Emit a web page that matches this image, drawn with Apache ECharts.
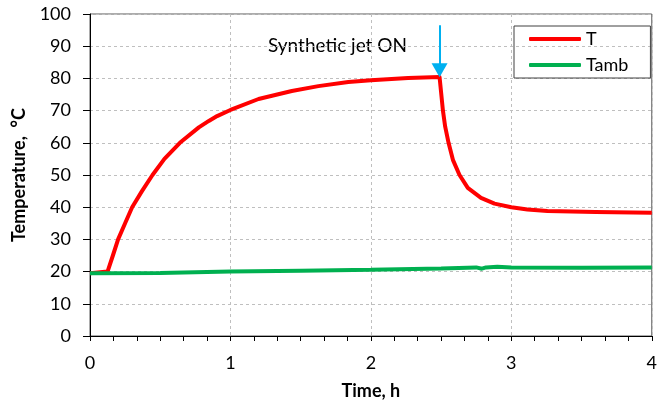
<!DOCTYPE html>
<html>
<head>
<meta charset="utf-8">
<script src="https://cdn.jsdelivr.net/npm/echarts@6/dist/echarts.min.js"></script>
<style>
  html, body { margin: 0; padding: 0; background: #fff; }
  #chart { width: 660px; height: 405px; }
</style>
</head>
<body>
<div id="chart"></div>
<script>
// T curve (hours, °C)
var tTime = [0, 0.125, 0.163, 0.2, 0.25, 0.3, 0.37, 0.445, 0.53, 0.64, 0.775, 0.846, 0.905, 1.0, 1.2,
  1.437, 1.626, 1.839, 2.0, 2.265, 2.489, 2.513, 2.529, 2.553, 2.584, 2.631, 2.69, 2.784, 2.88, 3.0,
  3.115, 3.257, 3.6, 4.0];
var tVals = [19.5, 20, 25, 30, 35, 40, 45, 50, 55, 60, 64.8, 66.8, 68.3, 70.2, 73.6,
  76.1, 77.6, 78.9, 79.4, 80.1, 80.4, 70, 65, 60, 54.7, 50, 46, 42.9, 41.1, 40,
  39.3, 38.8, 38.5, 38.3];

// Tamb curve
var ambTime = [0, 0.5, 1, 1.5, 2, 2.5, 2.75, 2.79, 2.82, 2.9, 3.0, 3.5, 4.0];
var ambVals = [19.5, 19.6, 20.0, 20.3, 20.6, 21.0, 21.3, 20.9, 21.3, 21.5, 21.3, 21.2, 21.3];

var jetTime = 2.489;
var xTicks = [0, 1, 2, 3, 4];
var yTicks = [0, 10, 20, 30, 40, 50, 60, 70, 80, 90, 100];

function pairs(xs, ys) {
  return xs.map(function (x, i) { return [x, ys[i]]; });
}

var font = "Lato, 'Open Sans', sans-serif";
var chart = echarts.init(document.getElementById("chart"));
chart.setOption({
  animation: false,
  backgroundColor: "#fff",
  grid: {
    left: 90, right: 5, top: 14, bottom: 68,
    show: true, borderColor: "#595959", borderWidth: 1
  },
  legend: {
    orient: "vertical",
    left: 514, top: 26,
    borderColor: "#404040", borderWidth: 1,
    padding: [4, 22, 4, 15],
    itemWidth: 52, itemHeight: 4, itemGap: 8,
    icon: "roundRect",
    textStyle: { fontFamily: font, fontSize: 18, color: "#000" },
    data: ["T", "Tamb"]
  },
  xAxis: {
    type: "value",
    min: xTicks[0], max: xTicks[xTicks.length - 1], interval: 1,
    name: "Time, h",
    nameLocation: "middle", nameGap: 46,
    nameTextStyle: { fontFamily: font, fontSize: 18, fontWeight: "bold", color: "#000" },
    axisLine: { lineStyle: { color: "#000", width: 1 } },
    axisTick: { show: true, length: 5, lineStyle: { color: "#000" } },
    minorTick: { show: true, splitNumber: 6, length: 5, lineStyle: { color: "#000" } },
    axisLabel: { fontFamily: font, fontSize: 18, color: "#000", margin: 18 },
    splitLine: { show: true, lineStyle: { color: "#BFBFBF", type: [3, 3] } }
  },
  yAxis: {
    type: "value",
    min: yTicks[0], max: yTicks[yTicks.length - 1], interval: 10,
    name: "Temperature,  °C",
    nameLocation: "middle", nameGap: 62,
    nameTextStyle: { fontFamily: font, fontSize: 18, fontWeight: "bold", color: "#000" },
    axisLine: { show: true, lineStyle: { color: "#000", width: 1 } },
    axisTick: { show: true, length: 7, lineStyle: { color: "#000" } },
    axisLabel: { fontFamily: font, fontSize: 18, color: "#000", margin: 19 },
    splitLine: { show: true, lineStyle: { color: "#BFBFBF", type: [3, 3] } }
  },
  graphic: [{
    type: "text", left: 268, top: 36,
    style: { text: "Synthetic jet ON", fontFamily: font, fontSize: 19, fill: "#000" }
  }],
  series: [
    {
      name: "T",
      type: "line",
      showSymbol: false,
      lineStyle: { color: "#FF0000", width: 4, join: "round" },
      itemStyle: { color: "#FF0000" },
      data: pairs(tTime, tVals),
      markLine: {
        silent: true,
        symbol: ["none", "triangle"],
        symbolSize: [16, 14],
        label: { show: false },
        lineStyle: { color: "#00B0F0", width: 2, type: "solid" },
        data: [[{ coord: [jetTime, 96.5] }, { coord: [jetTime, 82.5] }]]
      }
    },
    {
      name: "Tamb",
      type: "line",
      showSymbol: false,
      lineStyle: { color: "#00B050", width: 4 },
      itemStyle: { color: "#00B050" },
      data: pairs(ambTime, ambVals)
    }
  ]
});
</script>
</body>
</html>
